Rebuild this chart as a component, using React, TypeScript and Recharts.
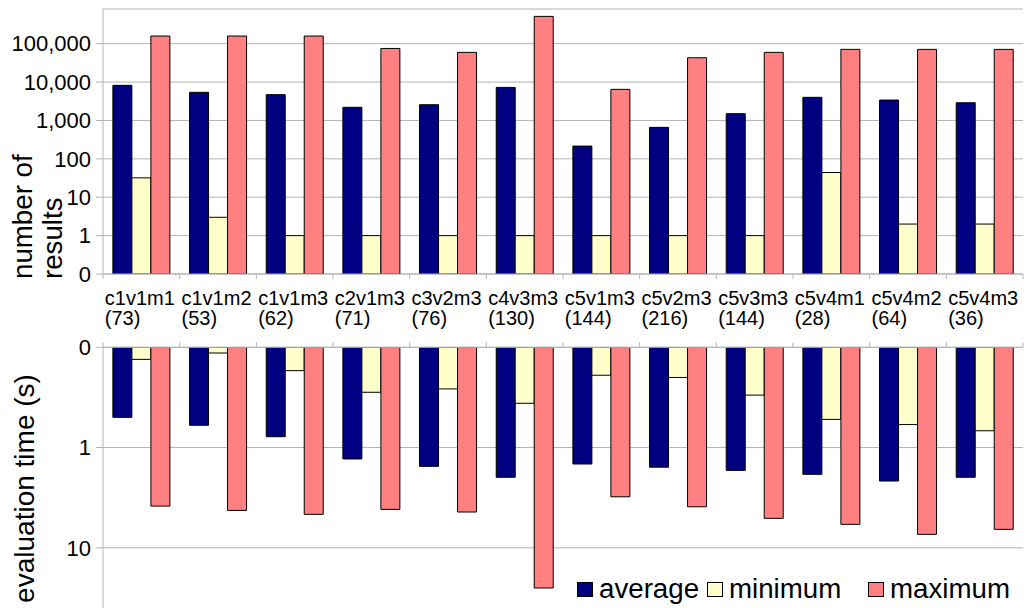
import React from 'react';
import { BarChart, Bar, XAxis, YAxis, CartesianGrid, Legend } from 'recharts';

const categories = ['c1v1m1', 'c1v1m2', 'c1v1m3', 'c2v1m3', 'c3v2m3', 'c4v3m3', 'c5v1m3', 'c5v2m3', 'c5v3m3', 'c5v4m1', 'c5v4m2', 'c5v4m3'];
const querySetSizes = [73, 53, 62, 71, 76, 130, 144, 216, 144, 28, 64, 36];

const resultsAverage = [8200, 5400, 4700, 2200, 2570, 7250, 215, 660, 1500, 4000, 3400, 2890];
const resultsMinimum = [32, 3, 1, 1, 1, 1, 1, 1, 1, 44, 2, 2];
const resultsMaximum = [158000, 158000, 158000, 75000, 59300, 514000, 6450, 43000, 59300, 71000, 71000, 71000];

const timeAverage = [0.5, 0.6, 0.78, 1.3, 1.54, 1.98, 1.46, 1.57, 1.69, 1.85, 2.16, 1.98];
const timeMinimum = [0.132, 0.114, 0.171, 0.281, 0.26, 0.362, 0.19, 0.2, 0.3, 0.524, 0.59, 0.68];
const timeMaximum = [3.84, 4.24, 4.64, 4.14, 4.4, 25.2, 3.1, 3.9, 5.09, 5.84, 7.35, 6.55];

const resultTicks = [0.1, 1, 10, 100, 1000, 10000, 100000];
const timeTicks = [0.1, 1, 10];

const seriesKeys = ['average', 'minimum', 'maximum'];
const seriesColors = ['#000080', '#ffffcc', '#ff8080'];

const resultsData = categories.map((name, i) => ({
  name,
  average: resultsAverage[i],
  minimum: resultsMinimum[i],
  maximum: resultsMaximum[i],
}));
const timeData = categories.map((name, i) => ({
  name,
  average: timeAverage[i],
  minimum: timeMinimum[i],
  maximum: timeMaximum[i],
}));

const FONT = '"Liberation Sans", Arial, Helvetica, sans-serif';
const GRID = '#b3b3b3';

const fmt = (v: number) => (v <= 0.1 ? '0' : v.toLocaleString('en-US'));

function CategoryTick(props: any) {
  const { x, y, payload, width } = props;
  const idx = categories.indexOf(payload.value);
  const half = payload && payload.offset ? payload.offset : width / categories.length / 2;
  const tx = x - 36.5;
  return (
    <g>
      <line x1={x - half} x2={x - half} y1={y} y2={y + 5} stroke={GRID} />
      {idx === categories.length - 1 && <line x1={x + half} x2={x + half} y1={y} y2={y + 5} stroke={GRID} />}
      <text fontSize={20} fontFamily={FONT} fill="#000" textAnchor="start">
        <tspan x={tx} y={y + 31}>{payload.value}</tspan>
        <tspan x={tx} y={y + 51}>({querySetSizes[idx]})</tspan>
      </text>
    </g>
  );
}

function BoundaryTick(props: any) {
  const { x, y, payload, width } = props;
  const idx = categories.indexOf(payload.value);
  const half = payload && payload.offset ? payload.offset : width / categories.length / 2;
  return (
    <g>
      <line x1={x - half} x2={x - half} y1={y} y2={y - 5} stroke={GRID} />
      {idx === categories.length - 1 && <line x1={x + half} x2={x + half} y1={y} y2={y - 5} stroke={GRID} />}
    </g>
  );
}

function ResultsTitle() {
  return (
    <g>
      <text x={32} y={279} transform="rotate(-90 32 279)" fontSize={27.7} fontFamily={FONT} fill="#000" textAnchor="start">number of</text>
      <text x={62} y={279} transform="rotate(-90 62 279)" fontSize={27.7} fontFamily={FONT} fill="#000" textAnchor="start">results</text>
    </g>
  );
}

function TimeTitle() {
  // coordinates relative to bottom chart (placed at top 330)
  return (
    <text x={33.5} y={158.5} transform="rotate(-90 33.5 158.5)" fontSize={28} fontFamily={FONT} fill="#000" textAnchor="middle">evaluation time (s)</text>
  );
}

const legendOffsets = [1, 131, 292];

function LegendContent(props: any) {
  const payload = [...(props.payload || [])].sort(
    (a: any, b: any) => seriesKeys.indexOf(a.dataKey ?? a.value) - seriesKeys.indexOf(b.dataKey ?? b.value)
  );
  return (
    <div style={{ position: 'relative', width: 450, height: 32 }}>
      {payload.map((p: any, i: number) => (
        <div key={p.value} style={{ position: 'absolute', left: legendOffsets[i], top: 0, height: 30, whiteSpace: 'nowrap' }}>
          <div style={{ position: 'absolute', left: 0, top: 7.3, width: 16, height: 15, boxSizing: 'border-box', border: '1px solid #000', background: p.color }} />
          <span style={{ position: 'absolute', left: 22, top: 0, fontFamily: FONT, fontSize: 27.7, lineHeight: '30px', color: '#000' }}>{p.value}</span>
        </div>
      ))}
    </div>
  );
}

export default function App() {
  return (
    <div style={{ position: 'absolute', left: 0, top: 0, width: 1028, height: 608, overflow: 'hidden', background: '#fff' }}>
      <div style={{ position: 'absolute', left: 0, top: 0 }}>
        <BarChart width={1028} height={340} data={resultsData} margin={{ top: 9, right: 5, left: 0, bottom: 0 }} barCategoryGap="12.9%" barGap={0}>
          <CartesianGrid vertical={false} stroke={GRID} />
          <XAxis dataKey="name" height={66} tickSize={0} tickMargin={0} tickLine={false} interval={0} axisLine={{ stroke: GRID }} tick={<CategoryTick />} />
          <XAxis xAxisId="border" dataKey="name" orientation="top" height={0} tick={false} tickLine={false} axisLine={{ stroke: GRID }} />
          <YAxis
            scale="log"
            domain={[0.1, 800000]}
            allowDataOverflow
            ticks={resultTicks}
            interval={0}
            width={103}
            tickSize={7}
            tickMargin={5}
            tickFormatter={fmt}
            stroke={GRID}
            tick={{ fontSize: 22, fill: '#000', fontFamily: FONT }}
            label={{ content: () => <ResultsTitle /> }}
          />
          <YAxis yAxisId="border" orientation="right" width={0} domain={[0, 1]} tick={false} tickLine={false} axisLine={{ stroke: GRID }} />
          {seriesKeys.map((k, i) => (
            <Bar key={k} dataKey={k} fill={seriesColors[i]} stroke="#000" strokeWidth={1} isAnimationActive={false} />
          ))}
        </BarChart>
      </div>
      <div style={{ position: 'absolute', left: 0, top: 330 }}>
        <BarChart width={1028} height={330} data={timeData} margin={{ top: 7.3, right: 5, left: 0, bottom: 12 }} barCategoryGap="12.9%" barGap={0}>
          <CartesianGrid vertical={false} stroke={GRID} />
          <XAxis dataKey="name" orientation="top" height={10} tickSize={0} tickMargin={0} tickLine={false} interval={0} axisLine={{ stroke: GRID }} tick={<BoundaryTick />} />
          <YAxis
            scale="log"
            reversed
            domain={[0.1, 100]}
            allowDataOverflow
            ticks={timeTicks}
            interval={0}
            width={103}
            tickSize={7}
            tickMargin={5}
            tickFormatter={fmt}
            stroke={GRID}
            tick={{ fontSize: 22, fill: '#000', fontFamily: FONT }}
            label={{ content: () => <TimeTitle /> }}
          />
          <YAxis yAxisId="border" orientation="right" width={0} domain={[0, 1]} tick={false} tickLine={false} axisLine={{ stroke: GRID }} />
          {seriesKeys.map((k, i) => (
            <Bar key={k} dataKey={k} fill={seriesColors[i]} stroke="#000" strokeWidth={1} isAnimationActive={false} />
          ))}
          <Legend
            layout="horizontal"
            verticalAlign="middle"
            align="center"
            wrapperStyle={{ position: 'absolute', left: 576, top: 244.4, width: 450, margin: 0 }}
            content={<LegendContent />}
          />
        </BarChart>
      </div>
    </div>
  );
}
